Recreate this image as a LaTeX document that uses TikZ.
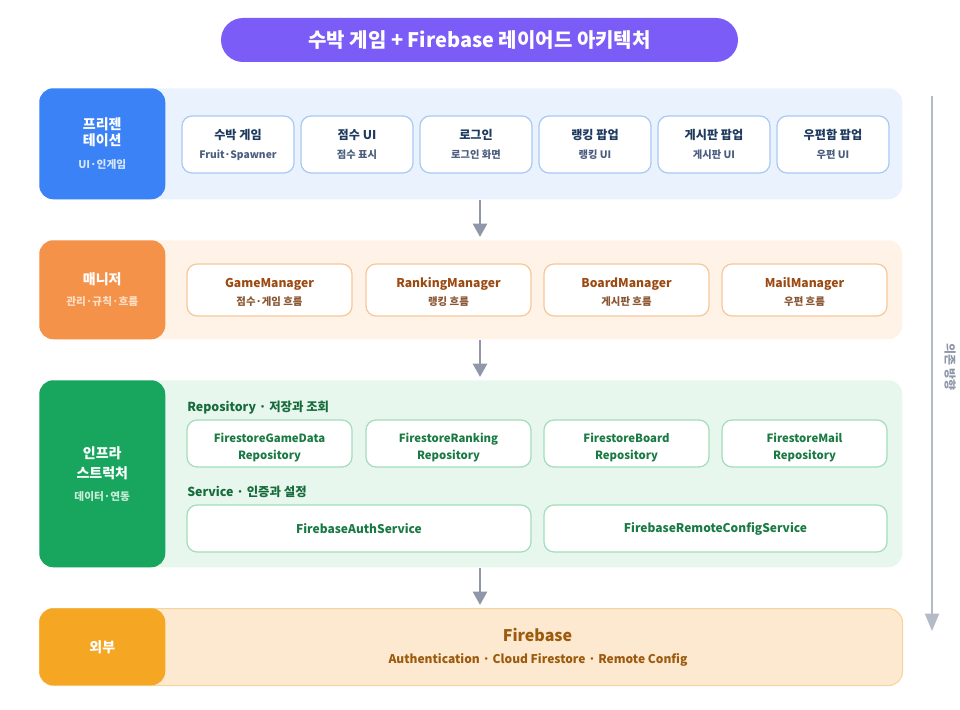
\documentclass[tikz,border=0pt]{standalone}
\usepackage{fontspec}
\setmainfont{Noto Sans CJK KR}
\usetikzlibrary{arrows.meta}
\definecolor{purp}{HTML}{7C5CF7}
\definecolor{blueL}{HTML}{3B82F6}
\definecolor{blueBg}{HTML}{EAF2FE}
\definecolor{blueBd}{HTML}{A9C9F5}
\definecolor{navyT}{HTML}{1E3A5F}
\definecolor{navyS}{HTML}{4B5E7E}
\definecolor{blueSub}{HTML}{D6E6FD}
\definecolor{orL}{HTML}{F5924A}
\definecolor{orBg}{HTML}{FEF3E6}
\definecolor{orBd}{HTML}{F7C79B}
\definecolor{orT}{HTML}{9C4A12}
\definecolor{orS}{HTML}{8A5632}
\definecolor{orSub}{HTML}{FDDDC4}
\definecolor{grL}{HTML}{18A65E}
\definecolor{grBg}{HTML}{E8F7EE}
\definecolor{grBd}{HTML}{A3DDBB}
\definecolor{grT}{HTML}{1A7A43}
\definecolor{grH}{HTML}{176B3B}
\definecolor{grSub}{HTML}{C8EDD8}
\definecolor{exL}{HTML}{F5A623}
\definecolor{exBg}{HTML}{FDE9CF}
\definecolor{exBd}{HTML}{F7D39E}
\definecolor{exT}{HTML}{9B5A0E}
\definecolor{arrG}{HTML}{8F97A8}
\definecolor{sideG}{HTML}{B4BAC6}
\newcommand\fs[2]{\fontsize{#1}{#2}\selectfont}
\tikzset{
  sz/.style 2 args={minimum width=#1*0.75pt, minimum height=#2*0.75pt},
  band/.style={rounded corners=10.5pt, inner sep=0pt, anchor=north west},
  lab/.style={rounded corners=10.5pt, inner sep=0pt, anchor=north west, text=white, align=center},
  card/.style={draw, line width=0.9pt, fill=white, rounded corners=7.5pt, inner sep=0pt, align=center},
  pcard/.style={card, draw=blueBd, sz={112}{57}, font=\bfseries\fs{9.1}{14.25}},
  mcard/.style={card, draw=orBd, sz={165}{52}},
  mtext/.style={inner sep=0pt, align=center, font=\bfseries\fs{9.1}{13.5}},
  rcard/.style={card, draw=grBd, sz={165}{47}},
  rtext/.style={inner sep=0pt, align=center, text=grT, font=\bfseries\fs{8.5}{12.75}},
  scard/.style={card, draw=grBd, text=grT, font=\bfseries\fs{9}{12}},
  head/.style={anchor=west, inner sep=0pt, text=grH, font=\bfseries\fs{9.3}{12}},
  layarrow/.style={draw=arrG, line width=1.9pt, -{Triangle[width=10.5pt,length=10pt]}},
}
\newcommand\pt[2]{{\color{navyT}#1}\\{\fs{7.7}{14.25}\color{navyS}#2}}
\newcommand\mt[2]{{\color{orT}#1}\\{\fs{7.8}{13.5}\color{orS}#2}}
\begin{document}
\begin{tikzpicture}[x=0.75pt,y=-0.75pt]
\useasboundingbox (0,0) rectangle (960,710);
% title
\node[fill=purp, rounded corners=16.5pt, sz={517}{44}, text=white, font=\bfseries\fs{15}{18}] (title) at (479.5,40) {수박 게임 + Firebase 레이어드 아키텍처};
% layer 1
\node[band, fill=blueBg, sz={863}{111}] (b1) at (39,88) {};
\node[lab, fill=blueL, sz={126}{111}, font=\bfseries\fs{10.5}{11.8}] (l1) at (39,88) {프리젠\\테이션\\[5.6pt]{\fs{8}{11.8}\color{blueSub}UI·인게임}};
\node[pcard] (p1) at (238,144.5) {\pt{수박 게임}{Fruit·Spawner}};
\node[pcard] (p2) at (357,144.5) {\pt{점수 UI}{점수 표시}};
\node[pcard] (p3) at (476,144.5) {\pt{로그인}{로그인 화면}};
\node[pcard] (p4) at (595,144.5) {\pt{랭킹 팝업}{랭킹 UI}};
\node[pcard] (p5) at (714,144.5) {\pt{게시판 팝업}{게시판 UI}};
\node[pcard] (p6) at (833,144.5) {\pt{우편함 팝업}{우편 UI}};
% layer 2
\node[band, fill=orBg, sz={863}{99}] (b2) at (39,240) {};
\node[lab, fill=orL, sz={126}{99}, font=\bfseries\fs{10.5}{15.75}] (l2) at (39,240) {매니저\\{\fs{8}{15.75}\color{orSub}관리·규칙·흐름}};
\node[mcard] (m1) at (269.5,290) {};
\node[mcard] (m2) at (448.5,290) {};
\node[mcard] (m3) at (626.5,290) {};
\node[mcard] (m4) at (804.5,290) {};
\node[mtext] (m1t) at (269.5,292) {\mt{GameManager}{점수·게임 흐름}};
\node[mtext] (m2t) at (448.5,292) {\mt{RankingManager}{랭킹 흐름}};
\node[mtext] (m3t) at (626.5,292) {\mt{BoardManager}{게시판 흐름}};
\node[mtext] (m4t) at (804.5,292) {\mt{MailManager}{우편 흐름}};
% layer 3
\node[band, fill=grBg, sz={863}{187}] (b3) at (39,380) {};
\node[lab, fill=grL, sz={126}{187}, font=\bfseries\fs{10.5}{15}] (l3) at (39,380) {인프라\\스트럭처\\[1.5pt]{\fs{8}{15}\color{grSub}데이터·연동}};
\node[head] (h1) at (187,408) {Repository · 저장과 조회};
\node[rcard] (r1) at (269.5,443.5) {};
\node[rcard] (r2) at (448.5,443.5) {};
\node[rcard] (r3) at (626.5,443.5) {};
\node[rcard] (r4) at (804.5,443.5) {};
\node[rtext] (r1t) at (269.5,447.5) {FirestoreGameData\\Repository};
\node[rtext] (r2t) at (448.5,447.5) {FirestoreRanking\\Repository};
\node[rtext] (r3t) at (626.5,447.5) {FirestoreBoard\\Repository};
\node[rtext] (r4t) at (804.5,447.5) {FirestoreMail\\Repository};
\node[head] (h2) at (187,492) {Service · 인증과 설정};
\node[scard, sz={344}{47}] (s1) at (359,528.5) {FirebaseAuthService};
\node[scard, sz={343}{47}] (s2) at (715.5,528.5) {FirebaseRemoteConfigService};
% layer 4
\node[band, fill=exBg, draw=exBd, line width=0.8pt, sz={863}{77}] (b4) at (39,608) {};
\node[lab, fill=exL, sz={126}{77}, font=\bfseries\fs{10.5}{14}] (l4) at (39,608) {외부};
\node[text=exT, font=\bfseries\fs{12}{15}, inner sep=0pt] (fb) at (537.5,635) {Firebase};
\node[text=exT, font=\bfseries\fs{9}{12}, inner sep=0pt] (fbs) at (538,660) {Authentication · Cloud Firestore · Remote Config};
% layer arrows
\coordinate (a1s) at (480,200); \coordinate (a1e) at (480,237);
\coordinate (a2s) at (480,340); \coordinate (a2e) at (480,377);
\coordinate (a3s) at (480,568); \coordinate (a3e) at (480,605);
\draw[layarrow] (a1s) -- (a1e);
\draw[layarrow] (a2s) -- (a2e);
\draw[layarrow] (a3s) -- (a3e);
% side arrow
\coordinate (ds) at (932,96); \coordinate (de) at (932,631);
\draw[draw=sideG, line width=1.5pt, -{Triangle[width=10.5pt,length=13pt]}] (ds) -- (de);
\node[rotate=-90, text=arrG, font=\bfseries\fs{9}{10}, inner sep=0pt] (dl) at (950,367) {의존 방향};
\end{tikzpicture}
\end{document}
